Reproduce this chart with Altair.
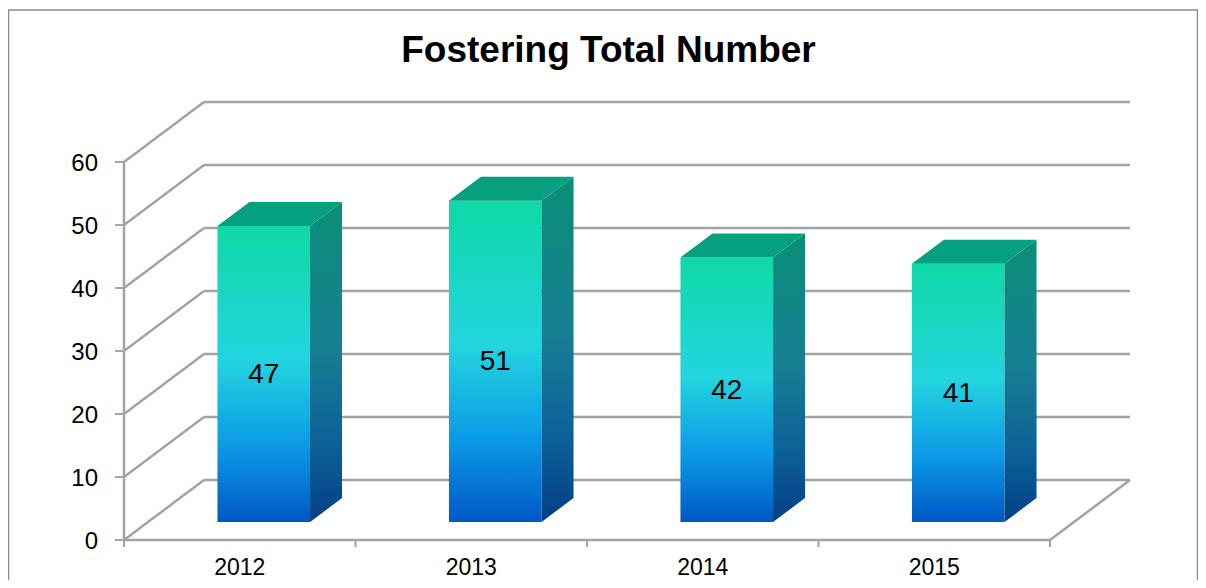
import altair as alt
import pandas as pd

# ---- data ----
years = ["2012", "2013", "2014", "2015"]
values = [47, 51, 42, 41]
y_ticks = [0, 10, 20, 30, 40, 50, 60]
title_text = "Fostering Total Number"

# ---- 3D geometry (in data units) ----
DX = 0.3456   # depth shift along x, in category units
DY = 9.52     # depth shift along y, in value units
D0, D1 = 0.3, 0.7   # bar depth range (fraction of full depth)
B0, B1 = 0.3, 0.7   # bar extent inside category band
X_MAX = len(years) + DX
Y_MAX = 60 + DY
W, H = 1006, 438

FONT = "Liberation Sans"
GRID = "#a3a3a3"

bars = pd.DataFrame({"year": years, "value": values, "idx": list(range(len(years)))})
ytick_df = pd.DataFrame({"v": y_ticks})
xtick_df = pd.DataFrame({"b": list(range(len(years) + 1))})

segs = []
for v in y_ticks:
    segs.append(dict(x=0, x2=DX, y=v, y2=v + DY))                         # left wall diagonals
    segs.append(dict(x=DX, x2=len(years) + DX, y=v + DY, y2=v + DY))       # back wall lines
segs.append(dict(x=0, x2=len(years), y=0, y2=0))                           # front floor edge
segs.append(dict(x=len(years), x2=len(years) + DX, y=0, y2=DY))            # right floor edge
segs.append(dict(x=0, x2=0, y=0, y2=60))                                   # vertical axis line
segdf = pd.DataFrame(segs)

xs = alt.Scale(domain=[0, X_MAX], nice=False, zero=False)
ys = alt.Scale(domain=[0, Y_MAX], nice=False, zero=False)

grad_front = alt.LinearGradient(
    gradient="linear", x1=0, x2=0, y1=0, y2=1,
    stops=[alt.GradientStop(color="#0fd9a6", offset=0),
           alt.GradientStop(color="#22d5df", offset=0.45),
           alt.GradientStop(color="#0b98e6", offset=0.75),
           alt.GradientStop(color="#0058c4", offset=1)])
grad_side = alt.LinearGradient(
    gradient="linear", x1=0, x2=0, y1=0, y2=1,
    stops=[alt.GradientStop(color="#0a8f76", offset=0),
           alt.GradientStop(color="#177f93", offset=0.45),
           alt.GradientStop(color="#0d6199", offset=0.75),
           alt.GradientStop(color="#033f86", offset=1)])
TOP_COLOR = "#04a07f"

border = alt.Chart(pd.DataFrame({"a": [0]})).mark_rect(
    fill="transparent", stroke="#8c8c8c", strokeWidth=1.5
).encode(x=alt.value(-115.5), x2=alt.value(W + 67.5), y=alt.value(-92), y2=alt.value(H + 60))

title = alt.Chart(pd.DataFrame({"t": [title_text]})).mark_text(
    font=FONT, fontSize=37, fontWeight="bold", color="black", align="center", baseline="alphabetic"
).encode(x=alt.value(484.5), y=alt.value(-40), text="t:N")

grid = alt.Chart(segdf).mark_rule(color=GRID, strokeWidth=2.5).encode(
    x=alt.X("x:Q", scale=xs, axis=None), x2="x2:Q",
    y=alt.Y("y:Q", scale=ys, axis=None), y2="y2:Q",
)

yticks = alt.Chart(ytick_df).mark_rule(color=GRID, strokeWidth=2).encode(
    x=alt.value(-9), x2=alt.value(0),
    y=alt.Y("v:Q", scale=ys, axis=None),
)
ytick_labels = alt.Chart(ytick_df).mark_text(
    font=FONT, fontSize=24, color="black", align="right", baseline="middle", dy=2
).encode(
    x=alt.value(-26),
    y=alt.Y("v:Q", scale=ys, axis=None),
    text="v:Q",
)
xticks = alt.Chart(xtick_df).mark_rule(color=GRID, strokeWidth=2).encode(
    x=alt.X("b:Q", scale=xs, axis=None),
    y=alt.value(H), y2=alt.value(H + 7),
)

front = alt.Chart(bars).transform_calculate(
    fx=f"datum.idx + {B0} + {D0}*{DX}",
    fx2=f"datum.idx + {B1} + {D0}*{DX}",
    fy=f"{D0}*{DY}",
    fy2=f"datum.value + {D0}*{DY}",
).mark_rect(color=grad_front).encode(
    x=alt.X("fx:Q", scale=xs, axis=None), x2="fx2:Q",
    y=alt.Y("fy:Q", scale=ys, axis=None), y2="fy2:Q",
)

side = alt.Chart(bars).transform_calculate(pts="[0, 1]").transform_flatten(["pts"]).transform_calculate(
    d=f"{D0} + ({D1}-{D0})*datum.pts"
).transform_calculate(
    sx=f"datum.idx + {B1} + datum.d*{DX}",
    sy=f"datum.d*{DY}",
    sy2=f"datum.value + datum.d*{DY}",
).mark_area(color=grad_side).encode(
    x=alt.X("sx:Q", scale=xs, axis=None),
    y=alt.Y("sy:Q", scale=ys, axis=None, stack=None), y2="sy2:Q",
    detail="year:N",
)

top = alt.Chart(bars).transform_calculate(pts="[0, 1]").transform_flatten(["pts"]).transform_calculate(
    d=f"{D0} + ({D1}-{D0})*datum.pts"
).transform_calculate(
    tx=f"datum.idx + {B0} + datum.d*{DX}",
    tx2=f"datum.idx + {B1} + datum.d*{DX}",
    ty=f"datum.value + datum.d*{DY}",
).mark_area(color=TOP_COLOR, orient="horizontal").encode(
    y=alt.Y("ty:Q", scale=ys, axis=None),
    x=alt.X("tx:Q", scale=xs, axis=None, stack=None), x2="tx2:Q",
    detail="year:N",
)

vlabels = alt.Chart(bars).transform_calculate(
    lx=f"datum.idx + 0.5 + {D0}*{DX}",
    ly=f"datum.value/2 + {D0}*{DY}",
).mark_text(font=FONT, fontSize=28, color="black", baseline="middle", align="center", dy=1).encode(
    x=alt.X("lx:Q", scale=xs, axis=None),
    y=alt.Y("ly:Q", scale=ys, axis=None),
    text="value:Q",
)

year_labels = alt.Chart(bars).transform_calculate(
    cx="datum.idx + 0.5",
).mark_text(font=FONT, fontSize=23, color="black", baseline="middle", align="center").encode(
    x=alt.X("cx:Q", scale=xs, axis=None),
    y=alt.value(H + 28),
    text="year:N",
)

chart = alt.layer(
    border, title, grid, yticks, xticks, ytick_labels, front, side, top, vlabels, year_labels
).properties(
    width=W, height=H,
    padding={"left": 116, "top": 94, "right": 68, "bottom": 40},
    autosize=alt.AutoSizeParams(type="none"),
).configure_view(stroke=None)

chart.save("out.html", embed_options={"renderer": "svg", "actions": False})
